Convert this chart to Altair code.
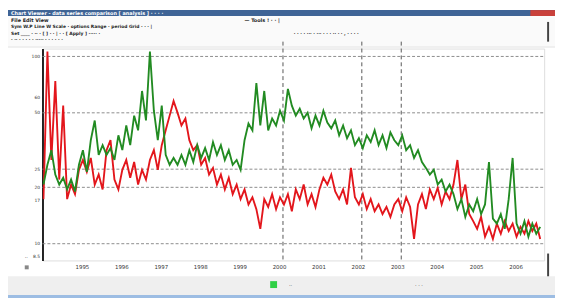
import altair as alt
import pandas as pd

# ---- data (log price scale) ----
green = [20.7, 26.4, 31.6, 23.4, 20.7, 22.5, 19.5, 22.0, 19.0, 26.4,
         31.6, 24.2, 35.7, 45.5, 29.8, 33.6, 29.8, 32.4, 28.0, 37.9,
         31.6, 42.8, 33.6, 48.3, 40.3, 65.4, 45.5, 106.2, 51.3, 35.7,
         54.6, 29.8, 26.4, 28.7, 26.4, 29.8, 26.4, 31.6, 27.3, 33.6,
         28.7, 32.4, 28.0, 34.9, 29.8, 33.6, 28.0, 31.6, 26.4, 28.0,
         24.8, 35.7, 43.8, 40.3, 72.1, 42.8, 65.4, 40.3, 46.6, 42.8,
         51.3, 45.5, 67.1, 54.6, 48.3, 52.6, 46.6, 50.1, 41.3, 48.3,
         42.8, 51.3, 44.4, 41.3, 45.5, 37.9, 42.8, 36.6, 40.3, 33.6,
         36.6, 32.4, 37.9, 34.9, 40.3, 33.6, 37.9, 32.4, 39.3, 35.7,
         33.6, 37.9, 31.6, 33.6, 28.7, 31.6, 27.3, 25.4, 23.4, 24.8,
         20.7, 22.0, 19.0, 20.7, 18.4, 15.3, 17.3, 13.9, 16.2, 14.9,
         17.3, 14.4, 16.2, 27.3, 13.6, 12.8, 14.4, 12.0, 17.3, 28.7,
         12.8, 11.3, 13.2, 10.9, 12.8, 11.3, 12.3]
red = [17.3, 106.2, 28.0, 73.9, 22.0, 54.6, 17.3, 20.7, 18.4, 24.8,
       28.0, 24.2, 28.7, 20.7, 23.4, 19.5, 31.6, 35.7, 22.0, 19.5,
       24.8, 28.0, 22.5, 27.3, 20.7, 24.8, 22.0, 28.0, 31.6, 24.8,
       33.6, 40.3, 48.3, 57.9, 50.1, 42.8, 46.6, 35.7, 31.6, 33.6,
       26.4, 28.7, 23.4, 25.4, 20.7, 23.4, 19.5, 22.5, 18.4, 20.7,
       17.3, 19.5, 16.2, 17.7, 15.3, 12.0, 17.3, 15.7, 18.4, 15.3,
       17.7, 16.2, 18.4, 14.9, 19.5, 17.3, 20.7, 16.2, 18.4, 15.7,
       19.5, 22.5, 20.7, 23.4, 19.0, 17.3, 19.5, 16.2, 25.4, 17.7,
       16.2, 18.4, 15.3, 17.3, 14.9, 16.2, 14.4, 15.7, 13.9, 16.2,
       17.3, 14.9, 17.7, 15.7, 10.6, 16.2, 18.4, 15.3, 19.5, 17.3,
       19.9, 16.2, 19.0, 17.3, 20.7, 28.0, 17.3, 20.7, 14.4, 13.2,
       12.0, 13.9, 10.9, 12.3, 10.6, 12.8, 11.3, 13.2, 11.7, 12.8,
       10.9, 12.3, 11.3, 13.2, 11.7, 12.8, 10.6]
days = list(range(0, 4 * len(green), 4))
grid_values = [100, 50, 25, 20, 10]
y_ticks = [100, 60, 50, 25, 20, 17, 10, 8.5]
event_days = [243, 323, 363]
x_tick_days = [39, 79, 119, 159, 199, 239, 279, 319, 359, 399, 439, 479]
x_tick_labels = ["1995", "1996", "1997", "1998", "1999", "2000",
                 "2001", "2002", "2003", "2004", "2005", "2006"]
series_names = ["A", "B"]
series_colors = ["#e3161c", "#228b22"]

W, H = 509, 215

rows = [{"t": d, "v": v, "s": "A"} for d, v in zip(days, red)] + \
       [{"t": d, "v": v, "s": "B"} for d, v in zip(days, green)]
df = pd.DataFrame(rows)

label_expr = "[" + ",".join("'%s'" % s for s in x_tick_labels) + "][round((datum.value-39)/40)]"

xs = alt.Scale(domain=[-1, 508], nice=False, zero=False)
ys = alt.Scale(type="log", domain=[8.14, 110.2], nice=False)

one = pd.DataFrame({"a": [0]})

def box(x1, x2, y1, y2, color):
    return alt.Chart(one).mark_rect(color=color).encode(
        x=alt.value(x1), x2=alt.value(x2), y=alt.value(y1), y2=alt.value(y2))

def txt(x, y, s, size=5, color="#222", align="left", weight="normal"):
    return alt.Chart(one).mark_text(align=align, baseline="middle", fontSize=size,
                                    color=color, font="DejaVu Sans", fontWeight=weight).encode(
        x=alt.value(x), y=alt.value(y), text=alt.value(s))

# window chrome (coordinates relative to plot origin)
chrome = [
    box(-35, 520, -39, -31, "#fbfbfb"),
    box(-35, 520, -39, -33, "#3f6496"),
    box(495, 520, -39, -33, "#c9413b"),
    txt(-32, -36, "Chart Viewer - data series comparison  [ analysis ]  ·  ·  ·  ·", 5, "#ffffff", weight="bold"),
    box(-35, 520, -31, -2, "#fafafa"),
    txt(-32, -29, "File  Edit  View", 5, weight="bold"),
    txt(205, -29, "—       Tools ! · ·   |", 5, weight="bold"),
    txt(-32, -22, "Sym    W.P  Line W   Scale · options   Range · period   Grid  ·  · ·  |", 4.5, weight="bold"),
    txt(-32, -15, "Set    ____    ·  ··  ·  [  ]   ·  · |   ·  ·  [ Apply ]     ·····  ·", 4.5, weight="bold"),
    txt(255, -15, "·  ·  · ·   ··· · ···  ·   · ·  ·· · · ,  ·  ·  ·      ·", 4.5, weight="bold"),
    txt(-32, -9, "·  ··    ·  ·  ·   ·  ·  ·····    ·  ·  ·     ·  ·  ·", 4.5, weight="bold"),
    box(-35, 520, -2, -1, "#e2e2e2"),
    box(512, 514, -27, -7, "#444444"),
    box(512, 514, 208, 238, "#444444"),
    box(-35, 520, 231, 251, "#efefef"),
    box(231, 238, 236, 243, "#2fd045"),
    txt(250, 240, "··", 5),
    txt(378, 240, "· · ·", 5),
    box(-35, 520, 250, 253, "#9dbde3"),
    txt(-18, 212, "··", 5),
    box(-18, -14, 220, 224, "#888888"),
]

gridlines = alt.Chart(pd.DataFrame({"v": grid_values})).mark_rule(
    color="#8c8c8c", strokeDash=[3, 2], strokeWidth=1).encode(
    y=alt.Y("v:Q", scale=ys), x=alt.value(0), x2=alt.value(W))

events = alt.Chart(pd.DataFrame({"t": event_days})).mark_rule(
    color="#555555", strokeDash=[4, 3], strokeWidth=1).encode(
    x=alt.X("t:Q", scale=xs), y=alt.value(-7), y2=alt.value(H))

lines = alt.Chart(df).mark_line(strokeWidth=1.9, clip=True).encode(
    x=alt.X("t:Q", scale=xs, title=None,
            axis=alt.Axis(values=x_tick_days, labelExpr=label_expr, grid=False,
                          domain=False, ticks=False, labelFontSize=5.5,
                          labelColor="#333", labelPadding=4, labelFont="DejaVu Sans")),
    y=alt.Y("v:Q", scale=ys, title=None,
            axis=alt.Axis(values=y_ticks, grid=False, domain=True, domainColor="#222",
                          domainWidth=2, ticks=False, labelFontSize=4.5, labelColor="#333",
                          labelPadding=3, labelFont="DejaVu Sans")),
    color=alt.Color("s:N", scale=alt.Scale(domain=series_names, range=series_colors), legend=None),
    detail="s:N",
)

chart = alt.layer(*chrome, gridlines, events, lines).properties(
    width=W, height=H,
    padding={"left": 35, "top": 39, "right": 11, "bottom": 38},
    autosize=alt.AutoSizeParams(type="none"),
).configure_view(stroke="#cfcfcf").configure(background="#ffffff")

chart.save("out.html", embed_options={"renderer": "svg", "actions": False})
